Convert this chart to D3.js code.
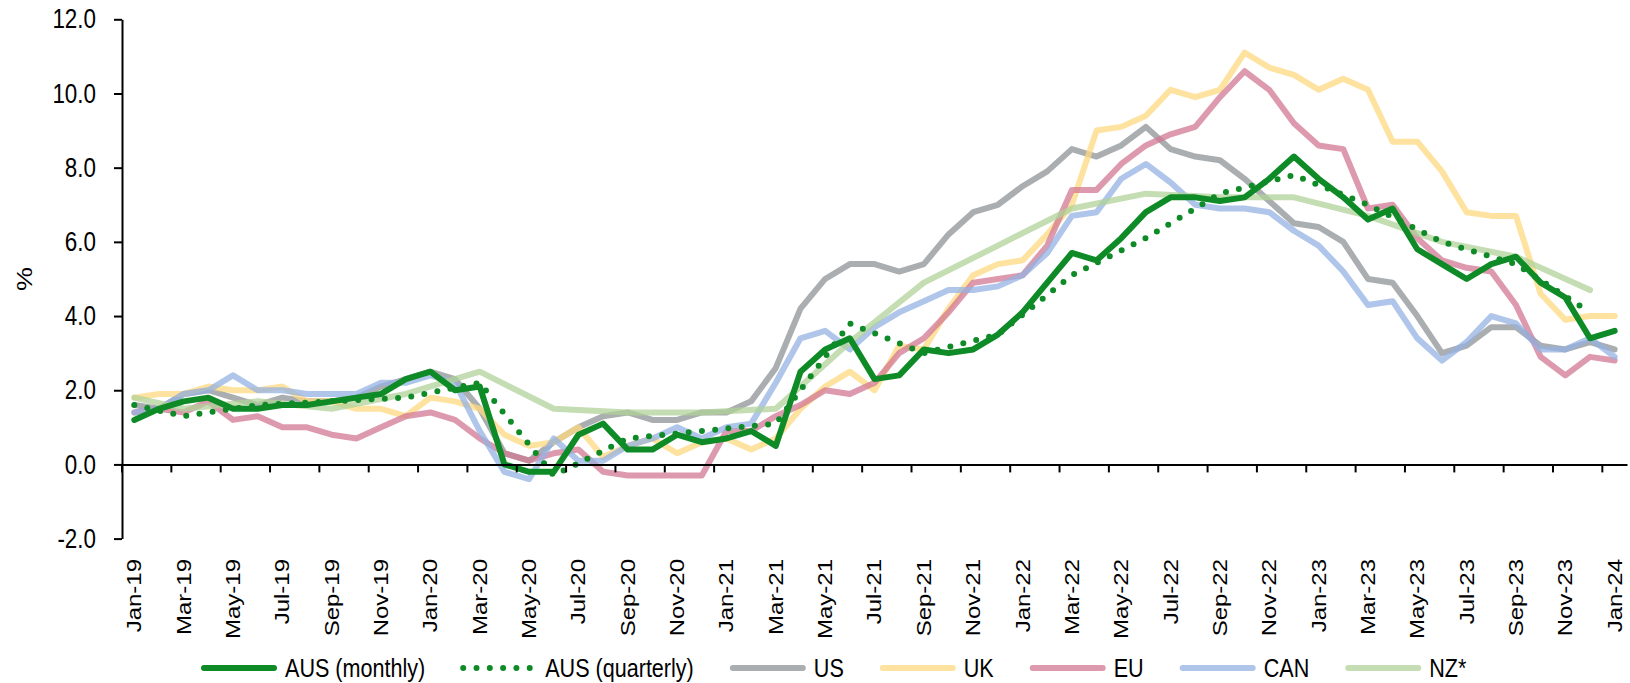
<!DOCTYPE html>
<html>
<head>
<meta charset="utf-8">
<script src="https://cdn.jsdelivr.net/npm/d3@7"></script>
<style>
  html, body { margin: 0; padding: 0; background: #fff; }
  svg { display: block; }
</style>
</head>
<body>
<script>
// Monthly categories, Jan-19 .. Jan-24
const months = [
  "Jan-19","Feb-19","Mar-19","Apr-19","May-19","Jun-19","Jul-19","Aug-19","Sep-19","Oct-19","Nov-19","Dec-19",
  "Jan-20","Feb-20","Mar-20","Apr-20","May-20","Jun-20","Jul-20","Aug-20","Sep-20","Oct-20","Nov-20","Dec-20",
  "Jan-21","Feb-21","Mar-21","Apr-21","May-21","Jun-21","Jul-21","Aug-21","Sep-21","Oct-21","Nov-21","Dec-21",
  "Jan-22","Feb-22","Mar-22","Apr-22","May-22","Jun-22","Jul-22","Aug-22","Sep-22","Oct-22","Nov-22","Dec-22",
  "Jan-23","Feb-23","Mar-23","Apr-23","May-23","Jun-23","Jul-23","Aug-23","Sep-23","Oct-23","Nov-23","Dec-23",
  "Jan-24"
];

// Annual CPI inflation, %
const ausMonthly = [
  1.2,1.5,1.7,1.8,1.5,1.5,1.6,1.6,1.7,1.8,1.9,2.3,
  2.5,2.0,2.1,0.0,-0.2,-0.2,0.8,1.1,0.4,0.4,0.8,0.6,
  0.7,0.9,0.5,2.5,3.1,3.4,2.3,2.4,3.1,3.0,3.1,3.5,
  4.1,4.9,5.7,5.5,6.1,6.8,7.2,7.2,7.1,7.2,7.7,8.3,
  7.7,7.2,6.6,6.9,5.8,5.4,5.0,5.4,5.6,4.9,4.5,3.4,
  3.6
];
// quarterly readings sit on the quarter-end months
const ausQuarterly = [
  1.6,null,1.3,null,null,1.6,null,null,1.7,null,null,1.8,
  null,null,2.2,null,null,-0.3,null,null,0.7,null,null,0.9,
  null,null,1.1,null,null,3.8,null,null,3.0,null,null,3.5,
  null,null,5.1,null,null,6.1,null,null,7.3,null,null,7.8,
  null,null,7.0,null,null,6.0,null,null,5.4,null,null,4.1,
  null
];
const us = [
  1.6,1.5,1.9,2.0,1.8,1.6,1.8,1.7,1.7,1.8,2.1,2.3,
  2.5,2.3,1.5,0.3,0.1,0.6,1.0,1.3,1.4,1.2,1.2,1.4,
  1.4,1.7,2.6,4.2,5.0,5.4,5.4,5.2,5.4,6.2,6.8,7.0,
  7.5,7.9,8.5,8.3,8.6,9.1,8.5,8.3,8.2,7.7,7.1,6.5,
  6.4,6.0,5.0,4.9,4.0,3.0,3.2,3.7,3.7,3.2,3.1,3.3,
  3.1
];
const uk = [
  1.8,1.9,1.9,2.1,2.0,2.0,2.1,1.7,1.7,1.5,1.5,1.3,
  1.8,1.7,1.5,0.8,0.5,0.6,1.0,0.2,0.5,0.7,0.3,0.6,
  0.7,0.4,0.7,1.5,2.1,2.5,2.0,3.2,3.1,4.2,5.1,5.4,
  5.5,6.2,7.0,9.0,9.1,9.4,10.1,9.9,10.1,11.1,10.7,10.5,
  10.1,10.4,10.1,8.7,8.7,7.9,6.8,6.7,6.7,4.6,3.9,4.0,
  4.0
];
const eu = [
  1.4,1.5,1.4,1.7,1.2,1.3,1.0,1.0,0.8,0.7,1.0,1.3,
  1.4,1.2,0.7,0.3,0.1,0.3,0.4,-0.2,-0.3,-0.3,-0.3,-0.3,
  0.9,0.9,1.3,1.6,2.0,1.9,2.2,3.0,3.4,4.1,4.9,5.0,
  5.1,5.9,7.4,7.4,8.1,8.6,8.9,9.1,9.9,10.6,10.1,9.2,
  8.6,8.5,6.9,7.0,6.1,5.5,5.3,5.2,4.3,2.9,2.4,2.9,
  2.8
];
const can = [
  1.4,1.5,1.9,2.0,2.4,2.0,2.0,1.9,1.9,1.9,2.2,2.2,
  2.4,2.2,0.9,-0.2,-0.4,0.7,0.1,0.1,0.5,0.7,1.0,0.7,
  1.0,1.1,2.2,3.4,3.6,3.1,3.7,4.1,4.4,4.7,4.7,4.8,
  5.1,5.7,6.7,6.8,7.7,8.1,7.6,7.0,6.9,6.9,6.8,6.3,
  5.9,5.2,4.3,4.4,3.4,2.8,3.3,4.0,3.8,3.1,3.1,3.4,
  2.9
];
const nz = [
  1.8,null,1.5,null,null,1.7,null,null,1.5,null,null,1.9,
  null,null,2.5,null,null,1.5,null,null,1.4,null,null,1.4,
  null,null,1.5,null,null,3.3,null,null,4.9,null,null,5.9,
  null,null,6.9,null,null,7.3,null,null,7.2,null,null,7.2,
  null,null,6.7,null,null,6.0,null,null,5.6,null,null,4.7,
  null
];

const yTicks = [-2, 0, 2, 4, 6, 8, 10, 12];

const series = [
  { name: "US",  values: us,  color: "#8f9396", opacity: 0.75 },
  { name: "UK",  values: uk,  color: "#fed880", opacity: 0.75 },
  { name: "EU",  values: eu,  color: "#d27893", opacity: 0.75 },
  { name: "CAN", values: can, color: "#94b2e2", opacity: 0.75 },
  { name: "NZ*", values: nz,  color: "#b0d298", opacity: 0.75 },
  { name: "AUS (quarterly)", values: ausQuarterly, color: "#0e8a26", opacity: 1, dotted: true },
  { name: "AUS (monthly)",   values: ausMonthly,   color: "#0e8a26", opacity: 1 }
];
const legendOrder = ["AUS (monthly)", "AUS (quarterly)", "US", "UK", "EU", "CAN", "NZ*"];

const W = 1630, H = 683;
const FONT = "'Liberation Sans', Arial, sans-serif";
const SX = 0.83;   // condensed horizontal text scale
const svg = d3.select("body").append("svg").attr("width", W).attr("height", H);

const x = d3.scaleBand().domain(months).range([122, 1627]).padding(0);
const bw = x.bandwidth();
const cx = m => x(m) + bw / 2;
const y = d3.scaleLinear().domain([-2, 12]).range([538.6, 19.3]);

// Series lines
const line = d3.line()
  .x(d => cx(d.m))
  .y(d => y(d.v));

const plot = svg.append("g");
series.forEach(s => {
  const pts = months.map((m, i) => ({ m, v: s.values[i] })).filter(d => d.v !== null);
  const p = plot.append("path")
    .datum(pts)
    .attr("d", line)
    .attr("fill", "none")
    .attr("stroke", s.color)
    .attr("stroke-opacity", s.opacity)
    .attr("stroke-width", 6)
    .attr("stroke-linejoin", "round")
    .attr("stroke-linecap", "round");
  if (s.dotted) p.attr("stroke-dasharray", "0 13.3");
});

// Y axis
const yAxis = svg.append("g")
  .attr("transform", "translate(122,0)")
  .call(d3.axisLeft(y).tickValues(yTicks).tickFormat(d => d.toFixed(1))
    .tickSize(8).tickSizeOuter(0).tickPadding(18));
yAxis.select(".domain").attr("stroke", "#000").attr("stroke-width", 2);
yAxis.selectAll(".tick line").attr("stroke", "#000").attr("stroke-width", 2);
yAxis.selectAll(".tick text")
  .attr("font-family", FONT).attr("font-size", 27).attr("fill", "#000")
  .each(function () {
    const t = d3.select(this);
    const tx = +t.attr("x");
    t.attr("x", 0).attr("transform", `translate(${tx},0) scale(${SX},1)`);
  });

// X axis along zero, ticks on every other month boundary
const xAxis = svg.append("g")
  .attr("transform", `translate(0,${y(0)})`)
  .call(d3.axisBottom(x).tickValues(months.filter((d, i) => i % 2 === 0))
    .tickFormat("").tickSize(8).tickSizeOuter(0));
xAxis.select(".domain").attr("stroke", "#000").attr("stroke-width", 2);
xAxis.selectAll(".tick").attr("transform", d => `translate(${x(d)},0)`);
xAxis.selectAll(".tick line").attr("stroke", "#000").attr("stroke-width", 2);
xAxis.selectAll(".tick text").remove();

// Month labels below the plot
svg.append("g").selectAll("text")
  .data(months.filter((d, i) => i % 2 === 0))
  .join("text")
  .attr("transform", d => `translate(${cx(d)},559) scale(${SX},1) rotate(-90)`)
  .attr("dy", "0.35em")
  .attr("text-anchor", "end")
  .attr("font-family", FONT).attr("font-size", 24).attr("fill", "#000")
  .text(d => d);

// Axis title
svg.append("text")
  .attr("transform", `translate(24,${(y(12) + y(-2)) / 2}) scale(${SX},1) rotate(-90)`)
  .attr("dy", "0.35em")
  .attr("text-anchor", "middle")
  .attr("font-family", FONT).attr("font-size", 27).attr("fill", "#000")
  .text("%");

// Legend
const legend = svg.append("g");
const LY = 668, LLEN = 76, LGAP = 8, ITEM_GAP = 36;
let lx = 201;
legendOrder.forEach(name => {
  const s = series.find(d => d.name === name);
  const ln = legend.append("line")
    .attr("x1", lx + 3).attr("x2", lx + LLEN - 3)
    .attr("y1", LY).attr("y2", LY)
    .attr("stroke", s.color).attr("stroke-opacity", s.opacity)
    .attr("stroke-width", 6).attr("stroke-linecap", "round");
  if (s.dotted) ln.attr("x1", lx + 2).attr("x2", lx + 69).attr("stroke-dasharray", "0 13.3");
  const tx = lx + LLEN + LGAP;
  const t = legend.append("text")
    .attr("transform", `translate(${tx},${LY}) scale(${SX},1)`)
    .attr("dy", "0.35em")
    .attr("font-family", FONT).attr("font-size", 26).attr("fill", "#000")
    .text(name);
  lx = tx + t.node().getComputedTextLength() * SX + ITEM_GAP;
});
</script>
</body>
</html>
